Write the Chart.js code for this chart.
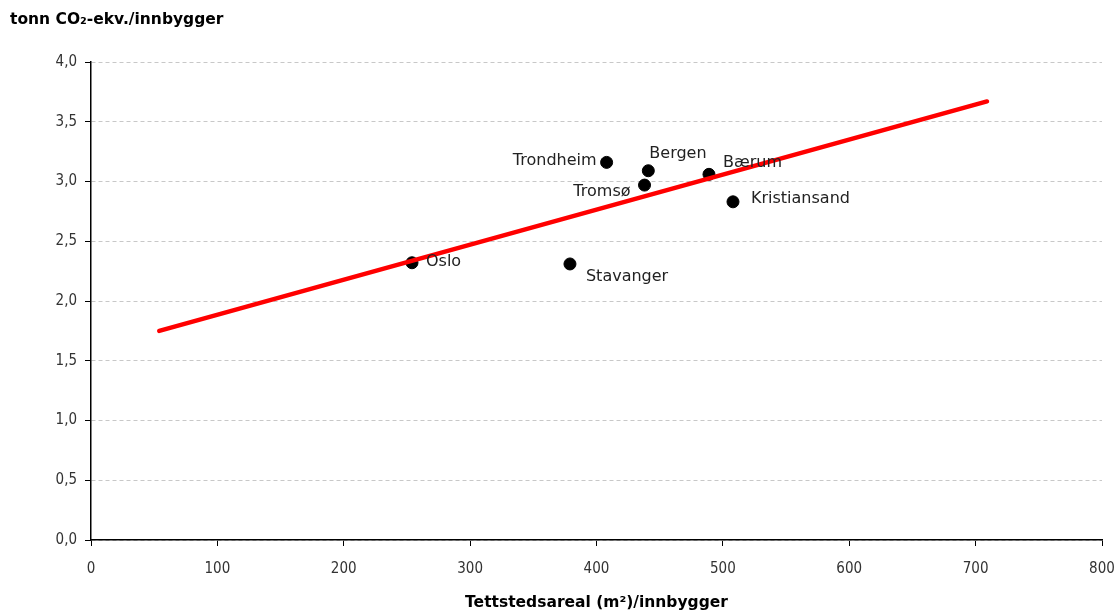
<!DOCTYPE html>
<html lang="no">
<head>
<meta charset="UTF-8">
<title>Tettstedsareal og utslipp</title>
<script src="https://cdn.jsdelivr.net/npm/chart.js@4.4.1/dist/chart.umd.min.js"></script>
<style>
  html, body { margin: 0; padding: 0; background: #fff; }
  #wrap { width: 1119px; height: 613px; }
</style>
</head>
<body>
<div id="wrap"><canvas id="chart"></canvas></div>
<script>
  // byer, tettstedsareal per innbygger (m2) og utslipp (tonn CO2-ekv. per innbygger)
  const cities = ["Oslo", "Stavanger", "Trondheim", "Bergen", "Tromsø", "Bærum", "Kristiansand"];
  const areaPerCapita = [254, 379, 408, 441, 438, 489, 508];
  const emissions = [2.32, 2.31, 3.16, 3.09, 2.97, 3.06, 2.83];

  // trendlinje, endepunkter
  const trendX = [54, 709];
  const trendY = [1.75, 3.67];

  const xTicks = [0, 100, 200, 300, 400, 500, 600, 700, 800];
  const yTicks = [0, 0.5, 1, 1.5, 2, 2.5, 3, 3.5, 4];

  const yTitle = "tonn CO₂-ekv./innbygger";
  const xTitle = "Tettstedsareal (m²)/innbygger";

  // where each name sits relative to its dot
  const labelPos = {
    "Oslo":         { dx: 14,  dy: -1,  align: "left" },
    "Stavanger":    { dx: 16,  dy: 13,  align: "left" },
    "Trondheim":    { dx: -10, dy: -2,  align: "right" },
    "Bergen":       { dx: 1,   dy: -17, align: "left" },
    "Tromsø":       { dx: -14, dy: 7,   align: "right" },
    "Bærum":        { dx: 14,  dy: -11, align: "left" },
    "Kristiansand": { dx: 18,  dy: -3,  align: "left" }
  };

  const pointData = cities.map((c, i) => ({ x: areaPerCapita[i], y: emissions[i] }));
  const trendData = trendX.map((x, i) => ({ x: x, y: trendY[i] }));

  const labelsPlugin = {
    id: "cityLabels",
    afterDatasetsDraw(chart) {
      const ctx = chart.ctx;
      const meta = chart.getDatasetMeta(0);
      ctx.save();
      ctx.font = '16px "DejaVu Sans"';
      ctx.fillStyle = "#222";
      ctx.textBaseline = "middle";
      meta.data.forEach((pt, i) => {
        const p = labelPos[cities[i]];
        ctx.textAlign = p.align;
        ctx.fillText(cities[i], pt.x + p.dx, pt.y + p.dy);
      });
      ctx.restore();
    }
  };

  const titlesPlugin = {
    id: "axisTitles",
    afterDraw(chart) {
      const ctx = chart.ctx;
      const area = chart.chartArea;
      ctx.save();
      ctx.fillStyle = "#000";
      ctx.font = 'bold 15.5px "DejaVu Sans"';
      ctx.textBaseline = "middle";
      ctx.textAlign = "left";
      ctx.fillText(yTitle, 10, 20);
      ctx.textAlign = "center";
      ctx.fillText(xTitle, (area.left + area.right) / 2, 603);
      ctx.restore();
    }
  };

  new Chart(document.getElementById("chart"), {
    type: "scatter",
    data: {
      datasets: [
        {
          label: "Byer",
          data: pointData,
          backgroundColor: "#000",
          borderColor: "#000",
          borderWidth: 1,
          pointRadius: 6,
          pointHoverRadius: 6,
          order: 2
        },
        {
          label: "Trend",
          data: trendData,
          showLine: true,
          borderColor: "#ff0000",
          borderWidth: 4.5,
          pointRadius: 0,
          borderCapStyle: "round",
          order: 1
        }
      ]
    },
    plugins: [labelsPlugin, titlesPlugin],
    options: {
      responsive: true,
      maintainAspectRatio: false,
      animation: false,
      layout: { padding: { top: 62, left: 0, right: 17, bottom: 0 } },
      plugins: {
        legend: { display: false },
        tooltip: { enabled: false }
      },
      scales: {
        x: {
          type: "linear",
          min: 0,
          max: 800,
          afterBuildTicks(scale) {
            scale.ticks = xTicks.map(v => ({ value: v }));
          },
          afterFit(scale) {
            scale.height = 73;
            scale.paddingLeft = 0;
            scale.paddingRight = 0;
          },
          grid: {
            drawOnChartArea: false,
            drawTicks: true,
            tickLength: 6,
            tickColor: "#000"
          },
          border: { display: true, color: "#000", width: 1.5 },
          ticks: {
            color: "#333",
            padding: 14,
            maxRotation: 0,
            font: { family: "DejaVu Sans Condensed", size: 15 }
          }
        },
        y: {
          type: "linear",
          min: 0,
          max: 4,
          afterBuildTicks(scale) {
            scale.ticks = yTicks.map(v => ({ value: v }));
          },
          afterFit(scale) {
            scale.width = 91;
            scale.paddingTop = 0;
            scale.paddingBottom = 0;
          },
          grid: {
            color: "#c8c8c8",
            lineWidth: 1,
            drawTicks: true,
            tickLength: 6,
            tickColor: "#000"
          },
          border: { display: true, color: "#000", width: 1.5, dash: [4, 3] },
          ticks: {
            color: "#333",
            padding: 8,
            font: { family: "DejaVu Sans Condensed", size: 15 },
            callback: v => v.toFixed(1).replace(".", ",")
          }
        }
      }
    }
  });
</script>
</body>
</html>
